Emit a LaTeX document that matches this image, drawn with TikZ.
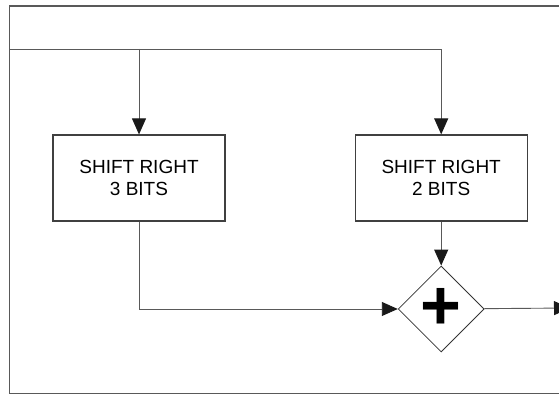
\documentclass[tikz,border=0pt]{standalone}
\usepackage{fontspec}
\setmainfont{Liberation Sans}
\usetikzlibrary{arrows.meta, positioning, shapes.geometric}

\begin{document}
\begin{tikzpicture}[
x=1pt, y=1pt,
node distance=129pt,
box/.style={draw=black!75, line width=1.2pt, rectangle,
minimum width=172pt,
minimum height=86pt,
align=center, font=\fontsize{19}{22.7}\selectfont},
adder/.style={draw=black!80, line width=0.8pt, diamond,
minimum width=86pt,
minimum height=86pt,
inner sep=0pt, font=\fontsize{70}{70}\selectfont\bfseries},
arrow/.style={-{Triangle[length=16pt, width=14pt, color=black!90]},
line width=0.9pt, draw=black!65},
frame/.style={draw=black!65, line width=1.6pt}
]
\useasboundingbox (0,0) rectangle (559,395);

% outer border, open to the right
\draw[frame] (600,389) -- (9.5,389) -- (9.5,1.5) -- (600,1.5);

\coordinate (in) at (9.5,346);

\node[box] (shift3) at (139,217) {SHIFT RIGHT\\3 BITS};
\node[box, right=of shift3] (shift2) {SHIFT RIGHT\\2 BITS};
\node[adder, below=44pt of shift2] (sum) {+};
\coordinate (out) at (570,87);

\draw[arrow] (in) -| (shift2);
\draw[arrow] (shift3.north |- in) -- (shift3);
\draw[arrow] (shift2) -- (sum);
\draw[arrow] (shift3) |- (sum);
\draw[arrow] (sum) -- (out);

\end{tikzpicture}
\end{document}
